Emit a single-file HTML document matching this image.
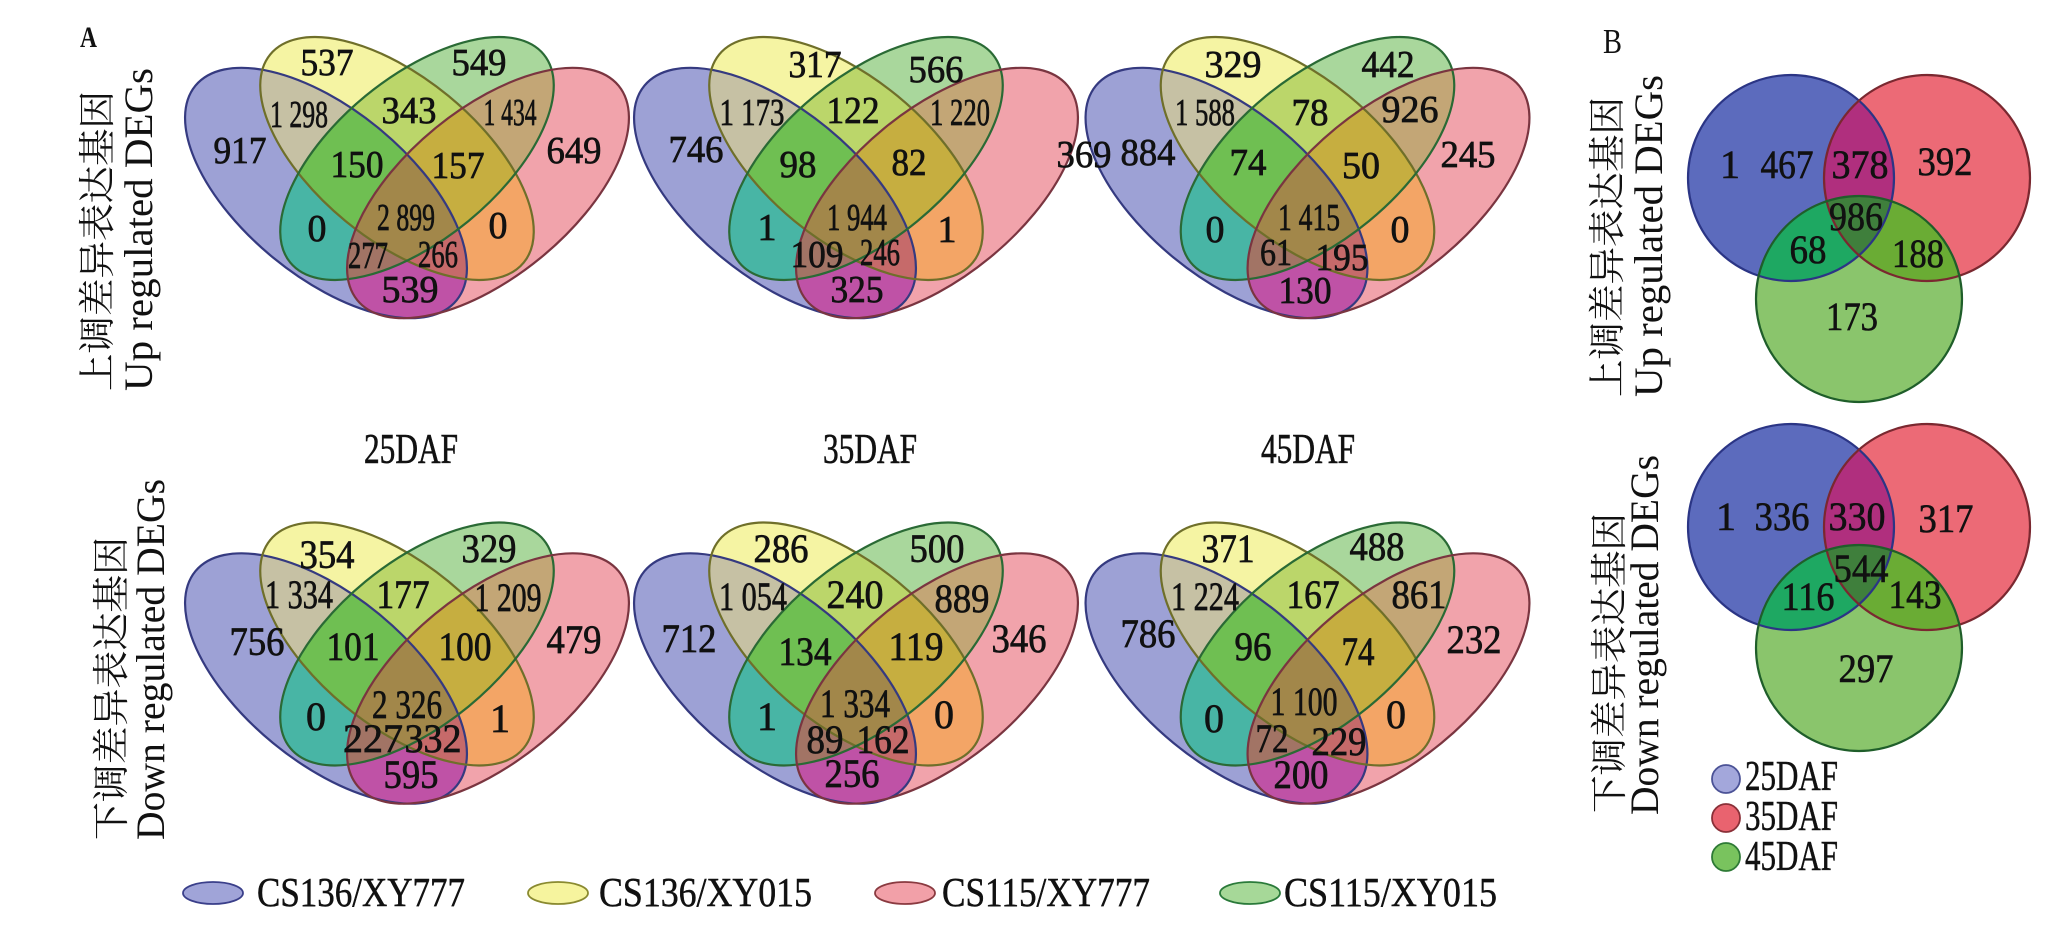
<!DOCTYPE html>
<html>
<head>
<meta charset="utf-8">
<style>
html,body{margin:0;padding:0;background:#ffffff;}
svg{display:block;}
</style>
</head>
<body>
<svg xmlns="http://www.w3.org/2000/svg" xmlns:xlink="http://www.w3.org/1999/xlink" width="2047" height="930" viewBox="0 0 2047 930" font-family="'Liberation Serif', 'Noto Serif CJK SC', serif">
<defs>
  <ellipse id="eB" cx="-81" cy="34.5" rx="169" ry="83.5" transform="rotate(39.4 -81 34.5)"/>
  <ellipse id="eY" cx="-10" cy="0" rx="164" ry="81" transform="rotate(39.4 -10 0)"/>
  <ellipse id="eG" cx="10" cy="0" rx="164" ry="81" transform="rotate(-39.4 10 0)"/>
  <ellipse id="eR" cx="81" cy="34.5" rx="169" ry="83.5" transform="rotate(-39.4 81 34.5)"/>
  <clipPath id="cB"><ellipse cx="-81" cy="34.5" rx="169" ry="83.5" transform="rotate(39.4 -81 34.5)"/></clipPath>
  <clipPath id="cY"><ellipse cx="-10" cy="0" rx="164" ry="81" transform="rotate(39.4 -10 0)"/></clipPath>
  <clipPath id="cG"><ellipse cx="10" cy="0" rx="164" ry="81" transform="rotate(-39.4 10 0)"/></clipPath>
  <clipPath id="cR"><ellipse cx="81" cy="34.5" rx="169" ry="83.5" transform="rotate(-39.4 81 34.5)"/></clipPath>

  <g id="v4">
    <use xlink:href="#eB" href="#eB" fill="#9da1d5"/>
    <use xlink:href="#eY" href="#eY" fill="#f5f4a3"/>
    <use xlink:href="#eG" href="#eG" fill="#a9d79c"/>
    <use xlink:href="#eR" href="#eR" fill="#f1a3ab"/>
    <g clip-path="url(#cB)"><use xlink:href="#eY" href="#eY" fill="#c6c1a4"/></g>
    <g clip-path="url(#cB)"><use xlink:href="#eG" href="#eG" fill="#48b5a5"/></g>
    <g clip-path="url(#cB)"><use xlink:href="#eR" href="#eR" fill="#bf52a6"/></g>
    <g clip-path="url(#cY)"><use xlink:href="#eG" href="#eG" fill="#bbd66a"/></g>
    <g clip-path="url(#cY)"><use xlink:href="#eR" href="#eR" fill="#f3a566"/></g>
    <g clip-path="url(#cG)"><use xlink:href="#eR" href="#eR" fill="#c3a676"/></g>
    <g clip-path="url(#cB)"><g clip-path="url(#cY)"><use xlink:href="#eG" href="#eG" fill="#6fbf52"/></g></g>
    <g clip-path="url(#cB)"><g clip-path="url(#cY)"><use xlink:href="#eR" href="#eR" fill="#c66a6a"/></g></g>
    <g clip-path="url(#cB)"><g clip-path="url(#cG)"><use xlink:href="#eR" href="#eR" fill="#a27465"/></g></g>
    <g clip-path="url(#cY)"><g clip-path="url(#cG)"><use xlink:href="#eR" href="#eR" fill="#c6ae40"/></g></g>
    <g clip-path="url(#cB)"><g clip-path="url(#cY)"><g clip-path="url(#cG)"><use xlink:href="#eR" href="#eR" fill="#a2874a"/></g></g></g>
    <use xlink:href="#eB" href="#eB" fill="none" stroke="#353a80" stroke-width="2.2"/>
    <use xlink:href="#eY" href="#eY" fill="none" stroke="#6f6f2a" stroke-width="2.2"/>
    <use xlink:href="#eG" href="#eG" fill="none" stroke="#2a6a35" stroke-width="2.2"/>
    <use xlink:href="#eR" href="#eR" fill="none" stroke="#7a3540" stroke-width="2.2"/>
  </g>

  <circle id="kB" cx="-68" cy="0" r="103"/>
  <circle id="kR" cx="68" cy="0" r="103"/>
  <circle id="kG" cx="0" cy="121" r="103"/>
  <clipPath id="qB"><circle cx="-68" cy="0" r="103"/></clipPath>
  <clipPath id="qR"><circle cx="68" cy="0" r="103"/></clipPath>
  <g id="v3">
    <use xlink:href="#kB" href="#kB" fill="#5c6bbd"/>
    <use xlink:href="#kR" href="#kR" fill="#ec6a76"/>
    <use xlink:href="#kG" href="#kG" fill="#8ac56c"/>
    <g clip-path="url(#qB)"><use xlink:href="#kR" href="#kR" fill="#b02f7e"/></g>
    <g clip-path="url(#qB)"><use xlink:href="#kG" href="#kG" fill="#1ea862"/></g>
    <g clip-path="url(#qR)"><use xlink:href="#kG" href="#kG" fill="#6aac34"/></g>
    <g clip-path="url(#qB)"><g clip-path="url(#qR)"><use xlink:href="#kG" href="#kG" fill="#3f7f3c"/></g></g>
    <use xlink:href="#kB" href="#kB" fill="none" stroke="#2b3585" stroke-width="2.2"/>
    <use xlink:href="#kR" href="#kR" fill="none" stroke="#7a2830" stroke-width="2.2"/>
    <use xlink:href="#kG" href="#kG" fill="none" stroke="#1f5e2a" stroke-width="2.2"/>
  </g>
</defs>

<rect x="0" y="0" width="2047" height="930" fill="#ffffff"/>

<use xlink:href="#v4" href="#v4" transform="translate(407,158.5)"/>
<use xlink:href="#v4" href="#v4" transform="translate(856,158.5)"/>
<use xlink:href="#v4" href="#v4" transform="translate(1307.5,158.5)"/>
<use xlink:href="#v4" href="#v4" transform="translate(407,644)"/>
<use xlink:href="#v4" href="#v4" transform="translate(856,644)"/>
<use xlink:href="#v4" href="#v4" transform="translate(1307.5,644)"/>

<use xlink:href="#v3" href="#v3" transform="translate(1859,178)"/>
<use xlink:href="#v3" href="#v3" transform="translate(1859,527)"/>

<text x="80" y="47" font-size="30" font-weight="bold" fill="#111" textLength="17" lengthAdjust="spacingAndGlyphs">A</text>
<text x="1603" y="53" font-size="35" fill="#111" textLength="19" lengthAdjust="spacingAndGlyphs">B</text>

<g fill="#111">
  <text transform="translate(110,391) rotate(-90)" font-size="37" textLength="300" lengthAdjust="spacingAndGlyphs" font-family="'Liberation Serif','Noto Serif CJK SC',serif">上调差异表达基因</text>
  <text transform="translate(152,391) rotate(-90)" font-size="40" textLength="323" lengthAdjust="spacingAndGlyphs">Up regulated DEGs</text>
  <text transform="translate(124,840) rotate(-90)" font-size="37" textLength="303" lengthAdjust="spacingAndGlyphs" font-family="'Liberation Serif','Noto Serif CJK SC',serif">下调差异表达基因</text>
  <text transform="translate(164,840) rotate(-90)" font-size="40" textLength="361" lengthAdjust="spacingAndGlyphs">Down regulated DEGs</text>
</g>

<g fill="#111">
  <text transform="translate(1620,397) rotate(-90)" font-size="37" textLength="300" lengthAdjust="spacingAndGlyphs" font-family="'Liberation Serif','Noto Serif CJK SC',serif">上调差异表达基因</text>
  <text transform="translate(1662,397) rotate(-90)" font-size="40" textLength="322" lengthAdjust="spacingAndGlyphs">Up regulated DEGs</text>
  <text transform="translate(1622,813) rotate(-90)" font-size="37" textLength="300" lengthAdjust="spacingAndGlyphs" font-family="'Liberation Serif','Noto Serif CJK SC',serif">下调差异表达基因</text>
  <text transform="translate(1658,815) rotate(-90)" font-size="40" textLength="360" lengthAdjust="spacingAndGlyphs">Down regulated DEGs</text>
</g>

<g fill="#111" stroke="#111" stroke-width="0.6" font-size="42" text-anchor="middle">
  <text x="411" y="463" textLength="94" lengthAdjust="spacingAndGlyphs">25DAF</text>
  <text x="870" y="463" textLength="94" lengthAdjust="spacingAndGlyphs">35DAF</text>
  <text x="1308" y="463" textLength="94" lengthAdjust="spacingAndGlyphs">45DAF</text>
</g>

<g fill="#111" stroke="#111" stroke-width="0.7" font-size="38" text-anchor="middle">
  <text x="327" y="75" textLength="53" lengthAdjust="spacingAndGlyphs">537</text>
  <text x="479" y="75" textLength="55" lengthAdjust="spacingAndGlyphs">549</text>
  <text x="299" y="127" textLength="58" lengthAdjust="spacingAndGlyphs">1 298</text>
  <text x="409" y="123" textLength="55" lengthAdjust="spacingAndGlyphs">343</text>
  <text x="510" y="125" textLength="53" lengthAdjust="spacingAndGlyphs">1 434</text>
  <text x="240" y="163" textLength="53" lengthAdjust="spacingAndGlyphs">917</text>
  <text x="357" y="177" textLength="53" lengthAdjust="spacingAndGlyphs">150</text>
  <text x="458" y="178" textLength="53" lengthAdjust="spacingAndGlyphs">157</text>
  <text x="574" y="163" textLength="55" lengthAdjust="spacingAndGlyphs">649</text>
  <text x="406" y="230" textLength="58" lengthAdjust="spacingAndGlyphs">2 899</text>
  <text x="317" y="241">0</text>
  <text x="498" y="238">0</text>
  <text x="368" y="268" textLength="40" lengthAdjust="spacingAndGlyphs">277</text>
  <text x="438" y="267" textLength="40" lengthAdjust="spacingAndGlyphs">266</text>
  <text x="410" y="302" textLength="57" lengthAdjust="spacingAndGlyphs">539</text>

  <text x="815" y="77" textLength="53" lengthAdjust="spacingAndGlyphs">317</text>
  <text x="936" y="82" textLength="55" lengthAdjust="spacingAndGlyphs">566</text>
  <text x="752" y="125" textLength="65" lengthAdjust="spacingAndGlyphs">1 173</text>
  <text x="853" y="123" textLength="53" lengthAdjust="spacingAndGlyphs">122</text>
  <text x="960" y="125" textLength="60" lengthAdjust="spacingAndGlyphs">1 220</text>
  <text x="696" y="162" textLength="55" lengthAdjust="spacingAndGlyphs">746</text>
  <text x="798" y="177" textLength="37" lengthAdjust="spacingAndGlyphs">98</text>
  <text x="909" y="175" textLength="35" lengthAdjust="spacingAndGlyphs">82</text>
  <text x="1084" y="167" textLength="55" lengthAdjust="spacingAndGlyphs">369</text>
  <text x="857" y="230" textLength="60" lengthAdjust="spacingAndGlyphs">1 944</text>
  <text x="767" y="240">1</text>
  <text x="947" y="242">1</text>
  <text x="817" y="267" textLength="53" lengthAdjust="spacingAndGlyphs">109</text>
  <text x="880" y="265" textLength="40" lengthAdjust="spacingAndGlyphs">246</text>
  <text x="857" y="302" textLength="53" lengthAdjust="spacingAndGlyphs">325</text>

  <text x="1233" y="77" textLength="57" lengthAdjust="spacingAndGlyphs">329</text>
  <text x="1388" y="77" textLength="53" lengthAdjust="spacingAndGlyphs">442</text>
  <text x="1205" y="125" textLength="60" lengthAdjust="spacingAndGlyphs">1 588</text>
  <text x="1310" y="125" textLength="37" lengthAdjust="spacingAndGlyphs">78</text>
  <text x="1410" y="122" textLength="57" lengthAdjust="spacingAndGlyphs">926</text>
  <text x="1148" y="165" textLength="55" lengthAdjust="spacingAndGlyphs">884</text>
  <text x="1248" y="175" textLength="37" lengthAdjust="spacingAndGlyphs">74</text>
  <text x="1361" y="178" textLength="38" lengthAdjust="spacingAndGlyphs">50</text>
  <text x="1468" y="167" textLength="55" lengthAdjust="spacingAndGlyphs">245</text>
  <text x="1309" y="230" textLength="62" lengthAdjust="spacingAndGlyphs">1 415</text>
  <text x="1215" y="242">0</text>
  <text x="1400" y="242">0</text>
  <text x="1276" y="265" textLength="32" lengthAdjust="spacingAndGlyphs">61</text>
  <text x="1342" y="270" textLength="53" lengthAdjust="spacingAndGlyphs">195</text>
  <text x="1305" y="303" textLength="53" lengthAdjust="spacingAndGlyphs">130</text>
</g>

<g fill="#111" stroke="#111" stroke-width="0.7" font-size="40" text-anchor="middle">
  <text x="327" y="568" textLength="55" lengthAdjust="spacingAndGlyphs">354</text>
  <text x="489" y="562" textLength="55" lengthAdjust="spacingAndGlyphs">329</text>
  <text x="299" y="608" textLength="68" lengthAdjust="spacingAndGlyphs">1 334</text>
  <text x="403" y="608" textLength="53" lengthAdjust="spacingAndGlyphs">177</text>
  <text x="508" y="611" textLength="67" lengthAdjust="spacingAndGlyphs">1 209</text>
  <text x="257" y="655" textLength="55" lengthAdjust="spacingAndGlyphs">756</text>
  <text x="353" y="660" textLength="53" lengthAdjust="spacingAndGlyphs">101</text>
  <text x="465" y="660" textLength="53" lengthAdjust="spacingAndGlyphs">100</text>
  <text x="574" y="653" textLength="55" lengthAdjust="spacingAndGlyphs">479</text>
  <text x="407" y="718" textLength="70" lengthAdjust="spacingAndGlyphs">2 326</text>
  <text x="316" y="730">0</text>
  <text x="500" y="732">1</text>
  <text x="373" y="752" textLength="60" lengthAdjust="spacingAndGlyphs">227</text>
  <text x="433" y="752" textLength="57" lengthAdjust="spacingAndGlyphs">332</text>
  <text x="411" y="788" textLength="55" lengthAdjust="spacingAndGlyphs">595</text>

  <text x="781" y="562" textLength="55" lengthAdjust="spacingAndGlyphs">286</text>
  <text x="937" y="562" textLength="55" lengthAdjust="spacingAndGlyphs">500</text>
  <text x="753" y="610" textLength="68" lengthAdjust="spacingAndGlyphs">1 054</text>
  <text x="855" y="608" textLength="57" lengthAdjust="spacingAndGlyphs">240</text>
  <text x="962" y="612" textLength="55" lengthAdjust="spacingAndGlyphs">889</text>
  <text x="689" y="652" textLength="55" lengthAdjust="spacingAndGlyphs">712</text>
  <text x="805" y="665" textLength="53" lengthAdjust="spacingAndGlyphs">134</text>
  <text x="916" y="660" textLength="55" lengthAdjust="spacingAndGlyphs">119</text>
  <text x="1019" y="652" textLength="55" lengthAdjust="spacingAndGlyphs">346</text>
  <text x="855" y="717" textLength="70" lengthAdjust="spacingAndGlyphs">1 334</text>
  <text x="767" y="730">1</text>
  <text x="944" y="728">0</text>
  <text x="825" y="753" textLength="37" lengthAdjust="spacingAndGlyphs">89</text>
  <text x="883" y="753" textLength="53" lengthAdjust="spacingAndGlyphs">162</text>
  <text x="852" y="787" textLength="55" lengthAdjust="spacingAndGlyphs">256</text>

  <text x="1228" y="562" textLength="53" lengthAdjust="spacingAndGlyphs">371</text>
  <text x="1377" y="560" textLength="55" lengthAdjust="spacingAndGlyphs">488</text>
  <text x="1205" y="610" textLength="68" lengthAdjust="spacingAndGlyphs">1 224</text>
  <text x="1313" y="608" textLength="53" lengthAdjust="spacingAndGlyphs">167</text>
  <text x="1419" y="608" textLength="55" lengthAdjust="spacingAndGlyphs">861</text>
  <text x="1148" y="647" textLength="55" lengthAdjust="spacingAndGlyphs">786</text>
  <text x="1253" y="660" textLength="37" lengthAdjust="spacingAndGlyphs">96</text>
  <text x="1358" y="665" textLength="33" lengthAdjust="spacingAndGlyphs">74</text>
  <text x="1474" y="653" textLength="55" lengthAdjust="spacingAndGlyphs">232</text>
  <text x="1304" y="715" textLength="67" lengthAdjust="spacingAndGlyphs">1 100</text>
  <text x="1214" y="732">0</text>
  <text x="1396" y="728">0</text>
  <text x="1272" y="752" textLength="33" lengthAdjust="spacingAndGlyphs">72</text>
  <text x="1339" y="755" textLength="55" lengthAdjust="spacingAndGlyphs">229</text>
  <text x="1301" y="788" textLength="55" lengthAdjust="spacingAndGlyphs">200</text>
</g>

<g fill="#111" stroke="#111" stroke-width="0.6" font-size="40" text-anchor="middle">
  <text x="1730" y="178">1</text>
  <text x="1787" y="178" textLength="53" lengthAdjust="spacingAndGlyphs">467</text>
  <text x="1860" y="178" textLength="57" lengthAdjust="spacingAndGlyphs">378</text>
  <text x="1945" y="175" textLength="55" lengthAdjust="spacingAndGlyphs">392</text>
  <text x="1856" y="230" textLength="54" lengthAdjust="spacingAndGlyphs">986</text>
  <text x="1808" y="263" textLength="37" lengthAdjust="spacingAndGlyphs">68</text>
  <text x="1918" y="267" textLength="52" lengthAdjust="spacingAndGlyphs">188</text>
  <text x="1852" y="330" textLength="52" lengthAdjust="spacingAndGlyphs">173</text>

  <text x="1726" y="530">1</text>
  <text x="1782" y="530" textLength="55" lengthAdjust="spacingAndGlyphs">336</text>
  <text x="1857" y="530" textLength="57" lengthAdjust="spacingAndGlyphs">330</text>
  <text x="1946" y="532" textLength="55" lengthAdjust="spacingAndGlyphs">317</text>
  <text x="1861" y="582" textLength="55" lengthAdjust="spacingAndGlyphs">544</text>
  <text x="1808" y="610" textLength="53" lengthAdjust="spacingAndGlyphs">116</text>
  <text x="1915" y="608" textLength="53" lengthAdjust="spacingAndGlyphs">143</text>
  <text x="1866" y="682" textLength="55" lengthAdjust="spacingAndGlyphs">297</text>
</g>

<circle cx="1726" cy="779" r="14" fill="#a3a7db" stroke="#4b5296" stroke-width="1.8"/>
<circle cx="1726" cy="818" r="14" fill="#e9636f" stroke="#8a3038" stroke-width="1.8"/>
<circle cx="1726" cy="857" r="14" fill="#79c35e" stroke="#2e7a36" stroke-width="1.8"/>
<g fill="#111" stroke="#111" stroke-width="0.5" font-size="42">
  <text x="1745" y="790" textLength="93" lengthAdjust="spacingAndGlyphs">25DAF</text>
  <text x="1745" y="830" textLength="93" lengthAdjust="spacingAndGlyphs">35DAF</text>
  <text x="1745" y="870" textLength="93" lengthAdjust="spacingAndGlyphs">45DAF</text>
</g>

<ellipse cx="213" cy="893" rx="30" ry="11" fill="#a0a4d8" stroke="#3a3f8a" stroke-width="1.8"/>
<ellipse cx="558" cy="893" rx="30" ry="11" fill="#f6f49e" stroke="#8a8a30" stroke-width="1.8"/>
<ellipse cx="905" cy="893" rx="30" ry="11" fill="#f2a0a8" stroke="#8a3a40" stroke-width="1.8"/>
<ellipse cx="1250" cy="893" rx="30" ry="11" fill="#a6d898" stroke="#2a7a3a" stroke-width="1.8"/>
<g fill="#111" stroke="#111" stroke-width="0.5" font-size="41">
  <text x="257" y="906" textLength="208" lengthAdjust="spacingAndGlyphs">CS136/XY777</text>
  <text x="599" y="906" textLength="213" lengthAdjust="spacingAndGlyphs">CS136/XY015</text>
  <text x="942" y="906" textLength="208" lengthAdjust="spacingAndGlyphs">CS115/XY777</text>
  <text x="1284" y="906" textLength="213" lengthAdjust="spacingAndGlyphs">CS115/XY015</text>
</g>
</svg>
</body>
</html>
